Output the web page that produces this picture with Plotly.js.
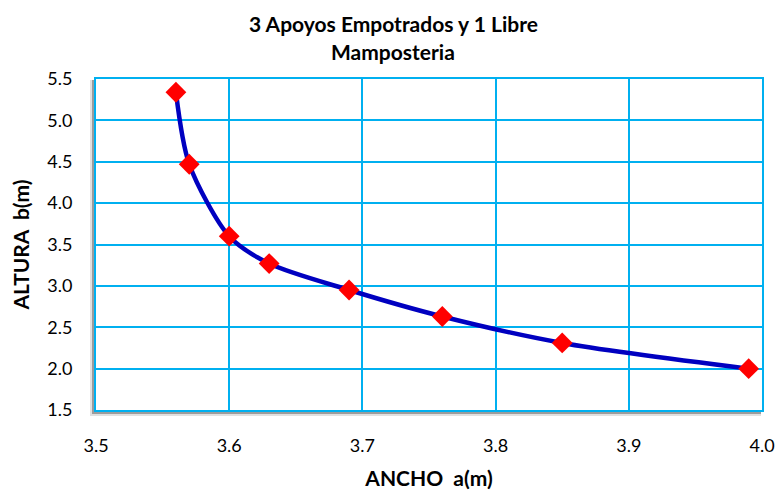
<!DOCTYPE html>
<html>
<head>
<meta charset="utf-8">
<script src="https://cdn.plot.ly/plotly-3.0.1.min.js"></script>
<style>html,body{margin:0;padding:0;background:#fff;}#chart{width:777px;height:491px;}</style>
</head>
<body>
<div id="chart"></div>
<script>
const ancho = [3.56, 3.57, 3.60, 3.63, 3.69, 3.76, 3.85, 3.99];
const altura = [5.34, 4.47, 3.60, 3.27, 2.95, 2.63, 2.31, 2.00];
const xTicks = [3.5, 3.6, 3.7, 3.8, 3.9, 4.0];
const yTicks = [1.5, 2.0, 2.5, 3.0, 3.5, 4.0, 4.5, 5.0, 5.5];
const titleLines = ['3 Apoyos Empotrados y 1 Libre', 'Mamposteria'];

const fontFam = 'Lato, "Open Sans", sans-serif';
const grid = '#00B0F0';

const trace = {
  x: ancho, y: altura, type: 'scatter', mode: 'lines+markers',
  line: {color: '#0000C0', width: 4.5, shape: 'spline', smoothing: 0.8},
  marker: {symbol: 'diamond', color: '#FF0000', size: 16},
  cliponaxis: false, hoverinfo: 'none'
};

const W = 666, H = 331;
const titleY = [23, 52];
const layout = {
  width: 777, height: 491,
  margin: {l: 96, r: 15, t: 79, b: 81},
  paper_bgcolor: '#fff', plot_bgcolor: 'rgba(0,0,0,0)',
  showlegend: false,
  font: {family: fontFam, color: '#000'},
  annotations: titleLines.map((t, i) => ({
    text: '<b>' + t + '</b>', showarrow: false, xref: 'paper', yref: 'paper',
    x: (393 - 96) / W, xanchor: 'center', y: (410 - titleY[i]) / H, yanchor: 'middle',
    font: {family: fontFam, size: 21, color: '#000'}
  })),
  xaxis: {range: [3.5, 4.0], tickvals: xTicks, ticktext: xTicks.map(v => v.toFixed(1)),
    showgrid: true, gridcolor: grid, gridwidth: 2, showline: true, linecolor: grid, linewidth: 2, mirror: true,
    ticks: '', zeroline: false, tickfont: {size: 18, family: fontFam}, ticklabelstandoff: 18,
    title: {text: '<b>ANCHO  a(m)</b>', font: {size: 21, family: fontFam}, standoff: 17}},
  yaxis: {range: [1.5, 5.5], tickvals: yTicks, ticktext: yTicks.map(v => v.toFixed(1)),
    showgrid: true, gridcolor: grid, gridwidth: 2, showline: true, linecolor: grid, linewidth: 2, mirror: true,
    ticks: '', zeroline: false, tickfont: {size: 18, family: fontFam}, ticklabelstandoff: 18,
    title: {text: '<b>ALTURA  b(m)</b>', font: {size: 21, family: fontFam}, standoff: 12}},
  shapes: [
    {type: 'rect', xref: 'paper', yref: 'paper', x0: -6/W, x1: 1 - 1/W, y0: -6/H, y1: 1 - 1/H,
      fillcolor: 'rgba(0,0,0,0.12)', line: {width: 0}, layer: 'below'},
    {type: 'rect', xref: 'paper', yref: 'paper', x0: -4/W, x1: 1 - 1/W, y0: -4/H, y1: 1 - 1/H,
      fillcolor: 'rgba(0,0,0,0.3)', line: {width: 0}, layer: 'below'},
    {type: 'rect', xref: 'paper', yref: 'paper', x0: 0, x1: 1, y0: 0, y1: 1,
      fillcolor: '#fff', line: {width: 0}, layer: 'below'}
  ]
};

Plotly.newPlot('chart', [trace], layout, {displayModeBar: false, staticPlot: true});
</script>
</body>
</html>
